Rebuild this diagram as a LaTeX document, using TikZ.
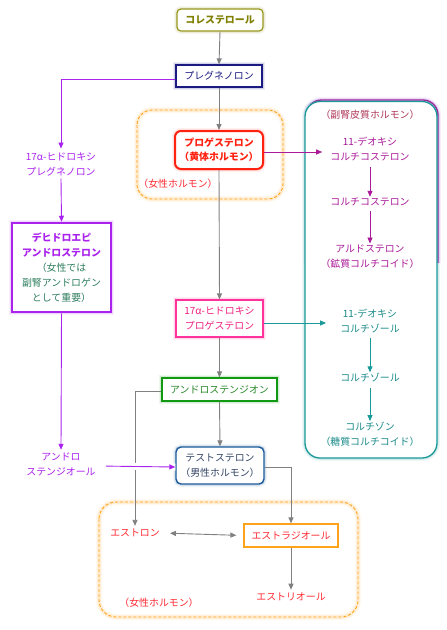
\documentclass[tikz,border=0pt]{standalone}
\usepackage{fontspec}
\setmainfont{Noto Sans CJK JP}
\usetikzlibrary{arrows.meta}
\definecolor{gline}{HTML}{808080}
\definecolor{olivec}{HTML}{999922}
\definecolor{olivet}{HTML}{7F7F00}
\definecolor{navyc}{HTML}{1A1A80}
\definecolor{redc}{HTML}{FF2211}
\definecolor{redt}{HTML}{FF2A33}
\definecolor{orangec}{HTML}{FFA31A}
\definecolor{purplec}{HTML}{AA22EE}
\definecolor{greent}{HTML}{2F7F5F}
\definecolor{pinkc}{HTML}{FF3399}
\definecolor{pinkt}{HTML}{F0207F}
\definecolor{greenc}{HTML}{119911}
\definecolor{greenbt}{HTML}{2A882A}
\definecolor{bluec}{HTML}{1A5A9A}
\definecolor{bluet}{HTML}{334466}
\definecolor{magc}{HTML}{AA1A99}
\definecolor{tealc}{HTML}{1A9999}
\definecolor{tealt}{HTML}{1A8A8A}
\definecolor{headt}{HTML}{B03A5A}
\tikzset{
  txt/.style={font=\fontsize{9.9}{15}\selectfont, align=center, inner sep=2pt},
  glow/.style={preaction={draw=#1, solid, line width=6pt, opacity=0.07},
               preaction={draw=#1, solid, line width=3.5pt, opacity=0.12}},
  boxn/.style={txt, draw, line width=1.2pt, fill=white},
  tip/.style={-{Triangle[length=6pt,width=5pt]}},
  arr/.style={draw=gline, line width=0.9pt, tip},
  parr/.style={draw=purplec, line width=0.9pt, tip},
  marr/.style={draw=magc, line width=0.9pt, tip},
  tarr/.style={draw=tealc, line width=0.9pt, tip},
  dashbox/.style={draw=orangec, line width=0.9pt, dash pattern=on 3pt off 2pt, glow=orangec},
}
\begin{document}
\begin{tikzpicture}[x=1pt,y=-1pt]
\useasboundingbox (0,0) rectangle (447,630);
\fill[white] (0,0) rectangle (447,630);

% dashed orange group boxes
\draw[dashbox, rounded corners=15pt] (137,110) rectangle (283,199);
\draw[dashbox, rounded corners=17pt] (99,502) rectangle (358,617);

% adrenal box
\draw[magc, line width=1.3pt, rounded corners=15pt, glow=purplec] (306.5,263) |- (438,100) -- (438,263);
\draw[tealc, line width=1.3pt, rounded corners=15pt, fill=white, glow=tealc] (305,101.5) rectangle (437,458);

% nodes
\node[boxn, draw=olivec, text=olivet, rounded corners=4pt, glow=olivec, minimum width=86pt, minimum height=22pt, font=\fontsize{9.9}{15}\selectfont\bfseries] (chol) at (220,20) {コレステロール};
\node[boxn, draw=navyc, text=navyc, glow=navyc, minimum width=86pt, minimum height=22pt] (preg) at (219,76) {プレグネノロン};
\node[boxn, draw=redc, text=redc, line width=2pt, rounded corners=6pt, glow=redc, minimum width=88pt, minimum height=38pt, font=\fontsize{9.9}{14}\selectfont\bfseries] (prog) at (219,150) {プロゲステロン\\（黄体ホルモン）};
\node[txt, text=redt] (fem1) at (178,184) {（女性ホルモン）};

\node[txt, text=purplec] (h17preg) at (61,164.5) {17α-ヒドロキシ\\プレグネノロン};
\node[boxn, draw=purplec, line width=2.5pt, glow=purplec, minimum width=99pt, minimum height=89pt, text=greent] (dhea) at (61.5,267.5) {\textcolor{purplec}{\bfseries デヒドロエピ}\\\textcolor{purplec}{\bfseries アンドロステロン}\\（女性では\\副腎アンドロゲン\\として重要）};
\node[txt, text=purplec] (adiol) at (61,464.5) {アンドロ\\ステンジオール};

\node[boxn, draw=pinkc, text=pinkt, glow=pinkc, minimum width=87pt, minimum height=37pt] (oh17prog) at (219.5,318.5) {17α-ヒドロキシ\\プロゲステロン};
\node[boxn, draw=greenc, text=greenbt, glow=greenc, minimum width=115pt, minimum height=23pt] (andro) at (219.5,389.5) {アンドロステンジオン};
\node[boxn, draw=bluec, text=bluet, line width=1.4pt, rounded corners=5pt, glow=bluec, minimum width=88pt, minimum height=37pt] (testo) at (220,465.5) {テストステロン\\（男性ホルモン）};

\node[txt, text=redt] (estrone) at (135,533) {エストロン};
\node[boxn, draw=orangec, text=redt, minimum width=94pt, minimum height=23pt] (estradiol) at (291,535.5) {エストラジオール};
\node[txt, text=redt] (estriol) at (291,597) {エストリオール};
\node[txt, text=redt] (fem2) at (159,603) {（女性ホルモン）};

% adrenal texts
\node[txt, text=headt] (adhead) at (370,115) {（副腎皮質ホルモン）};
\node[txt, text=magc] (doc) at (370,149.5) {11-デオキシ\\コルチコステロン};
\node[txt, text=magc] (cort) at (370,202) {コルチコステロン};
\node[txt, text=magc] (aldo) at (370,256.5) {アルドステロン\\（鉱質コルチコイド）};
\node[txt, text=tealt] (dcol) at (370,321) {11-デオキシ\\コルチゾール};
\node[txt, text=tealt] (col) at (370,378) {コルチゾール};
\node[txt, text=tealt] (con) at (370,434.5) {コルチゾン\\（糖質コルチコイド）};

% connectors
\draw[arr] (chol.south) -- (preg.north);
\draw[arr] (preg.south) -- (prog.north);
\draw[arr] (prog.south) -- (oh17prog.north);
\draw[arr] (oh17prog.south) -- (andro.north);
\draw[arr] (andro.south) -- (testo.north);
\draw[arr] ([yshift=-1.5pt]andro.west) -| ([yshift=1pt]estrone.north);
\draw[arr] ([yshift=-1.5pt]testo.east) -| (estradiol.north);
\draw[draw=gline, line width=0.9pt, {Triangle[length=6pt,width=5pt]}-{Triangle[length=6pt,width=5pt]}, shorten <=8pt, shorten >=7pt] (estrone.east) -- (estradiol.west);
\draw[arr] (estradiol.south) -- ([yshift=1pt]estriol.north);

\draw[parr] ([yshift=-3pt]preg.west) -| ([yshift=2pt]h17preg.north);
\draw[parr] (h17preg.south) -- (dhea.north);
\draw[parr] (dhea.south) -- ([yshift=1pt]adiol.north);
\draw[parr, preaction={draw=white, line width=7pt, -}, shorten <=8pt] ([yshift=-1.5pt]adiol.east) -- ([yshift=-1.5pt]testo.west);

\draw[marr] ([yshift=-2pt]prog.east) -- ([xshift=-6pt,yshift=-2.5pt]doc.west);
\draw[tarr] ([yshift=-4.5pt]oh17prog.east) -- ([xshift=-12pt,yshift=-2pt]dcol.west);
\draw[marr] ([yshift=-3pt]doc.south) -- ([yshift=-1pt]cort.north);
\draw[marr] ([yshift=-3pt]cort.south) -- ([yshift=-1pt]aldo.north);
\draw[tarr] ([yshift=-3pt]dcol.south) -- ([yshift=-1pt]col.north);
\draw[tarr] ([yshift=-3pt]col.south) -- ([yshift=-1pt]con.north);
\end{tikzpicture}
\end{document}
